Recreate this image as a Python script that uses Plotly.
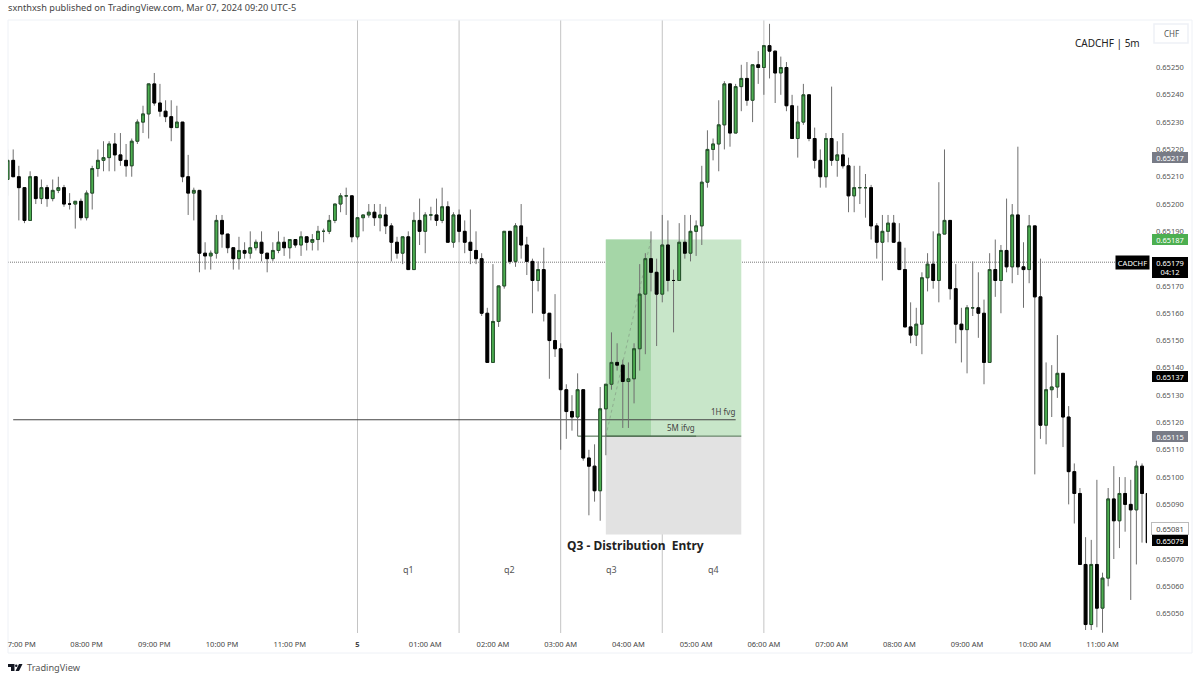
import pandas as pd
import plotly.graph_objects as go

# prices are stored as points above 0.65000
BASE = 0.65

opens = [209,216,210,206,194,210,202,206,202,205, 206,200,200,201,195,204,213,216,217,222,
         218,216,214,223,230,233,244,237,234,232, 228,230,210,204,205,182,181,182,194,189,
         184,180,183,182,184,186,182,180,183,186, 184,187,185,188,186,187,190,190,194,200,
         203,203,188,195,196,197,195,196,192,186, 182,188,176,194,190,196,196,194,199,186,
         196,190,186,183,180,160,142,157,170,190, 179,192,185,179,172,176,160,150,147,132,
         124,122,132,107,104,95,125,134,142,141, 135,136,147,167,180,175,167,185,172,172,
         186,182,190,192,208,220,222,229,244,226, 243,246,238,251,250,258,256,248,250,236,
         224,230,240,224,216,210,224,216,218,214, 203,206,206,206,192,186,190,193,186,176,
         155,152,156,173,178,172,189,194,169,156, 154,162,162,160,142,176,172,183,177,196,
         177,176,192,166,119,132,133,138,122,102, 94,68,46,68,52,63,92,84,94,90, 88,104,94]
highs = [220,220,214,206,212,210,209,207,209,210, 207,204,201,202,205,214,220,223,223,226,
         226,222,224,231,236,244,248,244,238,238, 236,230,218,206,205,186,183,196,196,189,
         184,188,186,190,187,190,182,186,190,188, 187,187,190,188,189,192,191,196,200,204,
         206,203,195,196,200,200,200,199,193,188, 188,190,197,202,197,199,202,206,201,197,
         198,194,198,190,182,162,178,170,190,190, 193,200,188,180,179,184,160,167,149,134,
         130,138,132,110,112,133,134,153,149,143, 142,149,178,182,190,180,196,194,176,193,
         196,196,194,214,227,224,238,245,244,244, 251,252,251,256,258,266,256,254,252,240,
         236,244,240,228,220,226,243,223,226,217, 214,214,211,207,193,196,196,196,193,184,
         164,162,175,182,190,208,220,194,178,162, 163,179,175,165,182,187,185,202,200,221,
         186,196,192,180,142,141,152,138,126,105, 96,78,77,99,65,96,104,100,100,99, 106,105,94]
lows = [203,210,194,193,194,200,200,199,201,204, 199,198,191,194,194,198,210,212,212,212,
        214,210,210,222,226,224,236,232,230,223, 228,208,196,194,175,176,176,180,184,182,
        176,176,180,180,183,179,175,179,182,181, 180,184,181,183,183,183,186,189,193,197,
        196,186,187,190,195,192,190,189,179,180, 178,176,176,185,182,194,192,193,186,184,
        186,182,178,178,159,142,142,155,169,178, 177,180,174,160,168,157,136,144,110,114,
        117,115,106,86,91,84,108,132,139,118, 118,127,139,145,168,148,164,168,153,172,
        180,179,181,185,206,216,212,220,221,226, 234,236,230,244,240,246,237,240,234,224,
        217,229,223,213,206,206,214,210,213,197, 197,200,195,187,180,172,186,186,176,155,
        149,148,145,168,169,164,189,165,149,142, 138,159,151,134,142,166,160,175,171,174,
        162,171,101,114,112,122,129,111,90,83, 68,44,44,45,43,60,70,74,80,55, 68,76,60]
closes = [216,210,206,194,210,202,206,202,205,206, 200,200,201,195,204,213,216,217,222,218,
          216,214,223,230,233,244,237,234,232,228, 230,210,204,205,182,181,182,194,189,184,
          180,183,182,184,186,182,180,183,186,184, 187,185,188,186,187,190,190,194,200,203,
          203,188,195,196,197,195,196,192,186,182, 188,176,194,190,196,196,194,199,186,196,
          190,186,183,180,160,142,157,170,190,179, 192,185,179,172,176,160,150,147,132,124,
          122,132,107,104,95,125,134,142,141,135, 136,147,167,180,175,167,185,172,172,186,
          182,190,192,208,220,222,229,244,226,243, 246,238,251,250,258,256,248,250,236,224,
          230,240,224,216,210,224,216,218,214,203, 206,206,206,192,186,190,193,186,176,155,
          152,156,173,178,172,189,194,169,156,154, 162,162,160,142,176,172,183,177,196,177,
          176,192,166,119,132,133,138,122,102,94, 68,46,68,52,63,92,84,94,90,88, 104,94,76]

times = pd.date_range("2024-03-04 18:50", periods=len(opens), freq="5min")

# 0.65080 and 0.65180 sit fully behind the price boxes, so they are left out
price_ticks = [0.65050, 0.65060, 0.65070, 0.65090, 0.65100, 0.65110, 0.65120, 0.65130, 0.65140,
               0.65150, 0.65160, 0.65170, 0.65190, 0.65200, 0.65210, 0.65220, 0.65230, 0.65240, 0.65250]
time_ticks = ["2024-03-04 19:00", "2024-03-04 20:00", "2024-03-04 21:00", "2024-03-04 22:00", "2024-03-04 23:00",
              "2024-03-05 00:00", "2024-03-05 01:00", "2024-03-05 02:00", "2024-03-05 03:00", "2024-03-05 04:00",
              "2024-03-05 05:00", "2024-03-05 06:00", "2024-03-05 07:00", "2024-03-05 08:00", "2024-03-05 09:00",
              "2024-03-05 10:00", "2024-03-05 11:00"]
time_labels = ["\u00a0\u00a0\u00a07:00 PM", "08:00 PM", "09:00 PM", "10:00 PM", "11:00 PM", "<b>5</b>", "01:00 AM", "02:00 AM",
               "03:00 AM", "04:00 AM", "05:00 AM", "06:00 AM", "07:00 AM", "08:00 AM", "09:00 AM", "10:00 AM", "11:00 AM"]
session_lines = ["2024-03-05 00:00", "2024-03-05 01:30", "2024-03-05 03:00", "2024-03-05 04:30", "2024-03-05 06:00"]

FONT = "Noto Sans"
GREEN = "#4caf50"


def px(x):
    return (x - 8) / 1139


def py(y):
    return (633 - y) / 613


def p(v):
    return BASE + v / 100000


fig = go.Figure()

# wicks first (grey), bodies on top with their own outline
fig.add_trace(go.Candlestick(
    x=times, open=[p(v) for v in opens], high=[p(v) for v in highs], low=[p(v) for v in lows],
    close=[p(v) for v in closes], whiskerwidth=0, showlegend=False, hoverinfo="skip",
    increasing=dict(line=dict(color="#6f6f6f", width=1), fillcolor="rgba(0,0,0,0)"),
    decreasing=dict(line=dict(color="#6f6f6f", width=1), fillcolor="rgba(0,0,0,0)"),
))
fig.add_trace(go.Candlestick(
    x=times, open=[p(v) for v in opens], close=[p(v) for v in closes],
    high=[p(max(a, b)) for a, b in zip(opens, closes)], low=[p(min(a, b)) for a, b in zip(opens, closes)],
    whiskerwidth=0, showlegend=False,
    increasing=dict(line=dict(color="#24502a", width=1), fillcolor=GREEN),
    decreasing=dict(line=dict(color="#000000", width=1), fillcolor="#000000"),
))

shapes = []
for t in session_lines:
    shapes.append(dict(type="line", xref="x", yref="paper", x0=t, x1=t, y0=0, y1=1, layer="below",
                       line=dict(color="#c4c4c4", width=1)))
shapes += [
    dict(type="rect", xref="x", yref="y", x0="2024-03-05 03:40", x1="2024-03-05 05:40", y0=0.65115, y1=0.65187,
         layer="below", fillcolor="#c8e6c9", line=dict(width=0)),
    dict(type="rect", xref="x", yref="y", x0="2024-03-05 03:40", x1="2024-03-05 04:20", y0=0.65115, y1=0.65187,
         layer="below", fillcolor="#a5d6a7", line=dict(width=0)),
    dict(type="rect", xref="x", yref="y", x0="2024-03-05 03:40", x1="2024-03-05 05:40", y0=0.65079, y1=0.65115,
         layer="below", fillcolor="#e2e2e2", line=dict(width=0)),
    dict(type="line", xref="x", yref="y", x0="2024-03-05 03:40", x1="2024-03-05 04:20", y0=0.65115, y1=0.65187,
         layer="below", line=dict(color="#8fae90", width=1, dash="3px,3px")),
    dict(type="line", xref="x", yref="y", x0="2024-03-05 03:40", x1="2024-03-05 05:40", y0=0.65115, y1=0.65115,
         layer="below", line=dict(color="#4f6f50", width=1)),
    dict(type="line", xref="paper", yref="y", x0=0, x1=1, y0=0.651787, y1=0.651787, layer="below",
         line=dict(color="#777777", width=1, dash="1px,1px")),
    dict(type="line", xref="x", yref="y", x0="2024-03-04 18:55", x1="2024-03-05 05:35", y0=0.65121, y1=0.65121,
         layer="below", line=dict(color="#444444", width=1)),
    dict(type="line", xref="x", yref="y", x0="2024-03-05 03:15", x1="2024-03-05 05:00", y0=0.65115, y1=0.65115,
         layer="below", line=dict(color="#3f5f40", width=1)),
    # pane frame and CHF button
    dict(type="rect", xref="paper", yref="paper", x0=px(8), x1=px(1192), y0=py(653), y1=py(20), layer="below",
         line=dict(color="#eef1f6", width=1)),
    dict(type="rect", xref="paper", yref="paper", x0=px(1154), x1=px(1188), y0=py(43), y1=py(24), layer="below",
         line=dict(color="#eef1f6", width=1.5)),
    # TradingView logo
    dict(type="path", xref="paper", yref="paper", fillcolor="#131722", line=dict(width=0),
         path=f"M {px(8)} {py(664)} L {px(14.5)} {py(664)} L {px(14.5)} {py(671)} L {px(11)} {py(671)} "
              f"L {px(11)} {py(667)} L {px(8)} {py(667)} Z "
              f"M {px(19)} {py(664)} L {px(22.5)} {py(664)} L {px(19)} {py(671)} L {px(15.5)} {py(671)} Z"),
    dict(type="circle", xref="paper", yref="paper", x0=px(15), x1=px(17.5), y0=py(667), y1=py(664.5),
         fillcolor="#131722", line=dict(width=0)),
]


def note(text, x, y, size=8, color="#444444", **kw):
    return dict(text=text, x=x, y=y, xref="x", yref="y", showarrow=False,
                font=dict(family=FONT, size=size, color=color), **kw)


def price_box(text, y, bg, fg="#ffffff", shift=0, height=11, border=None):
    return dict(text=text, x=px(1170), y=y, xref="paper", yref="y", showarrow=False, xanchor="center", yshift=shift,
                width=36, height=height, bgcolor=bg, bordercolor=border or bg, borderwidth=1 if border else 0,
                borderpad=0, font=dict(family=FONT, size=7.5, color=fg))


def page_text(text, x, y, size, color, anchor="left"):
    return dict(text=text, x=px(x), y=py(y), xref="paper", yref="paper", showarrow=False, xanchor=anchor,
                yanchor="middle", font=dict(family=FONT, size=size, color=color))


annotations = [
    note("q1", "2024-03-05 00:45", 0.65066, 9, "#555555"),
    note("q2", "2024-03-05 02:15", 0.65066, 9, "#555555"),
    note("q3", "2024-03-05 03:45", 0.65066, 9, "#555555"),
    note("q4", "2024-03-05 05:15", 0.65066, 9, "#555555"),
    note("1H fvg", "2024-03-05 05:24", 0.65124, 8),
    note("5M ifvg", "2024-03-05 04:47", 0.65118, 8),
    note("<b>Q3 - Distribution  Entry</b>", "2024-03-05 04:06", 0.65075, 12, "#222222"),
    price_box("0.65217", 0.65217, "#787b86"),
    price_box("0.65187", 0.65187, GREEN),
    price_box("0.65179<br>04:12", 0.65179, "#000000", shift=-6, height=21),
    price_box("0.65137", 0.65137, "#000000"),
    price_box("0.65115", 0.65115, "#787b86"),
    price_box("0.65081", 0.65081, "#ffffff", fg="#444444", border="#bbbbbb"),
    price_box("0.65079", 0.65079, "#000000", shift=-6),
    dict(text="CADCHF", x=px(1132), y=0.65179, xref="paper", yref="y", showarrow=False, xanchor="center", yshift=-1,
         width=31, height=11, bgcolor="#000000", font=dict(family=FONT, size=7.5, color="#ffffff")),
    page_text("CHF", 1171, 33, 8, "#555555", "center"),
    page_text("CADCHF | 5m", 1073, 43, 10, "#222222"),
    page_text("sxnthxsh published on TradingView.com, Mar 07, 2024 09:20 UTC-5", 6, 7, 9.2, "#444444"),
    page_text("TradingView", 25, 667, 9.2, "#555555"),
]

fig.update_layout(
    width=1200, height=681, margin=dict(l=8, r=53, t=20, b=48, autoexpand=False),
    paper_bgcolor="white", plot_bgcolor="white", boxmode="overlay", showlegend=False,
    shapes=shapes, annotations=annotations, hovermode=False,
    xaxis=dict(type="date", range=["2024-03-04 18:50:24", "2024-03-05 11:39:24"], rangeslider=dict(visible=False),
               showgrid=False, zeroline=False, showline=False, ticks="", tickvals=time_ticks, ticktext=time_labels,
               tickangle=0, automargin=False, ticklabelstandoff=5, tickfont=dict(family=FONT, size=7.5, color="#444444")),
    yaxis=dict(range=[0.650429, 0.652674], side="right", showgrid=False, zeroline=False, showline=False, ticks="",
               tickvals=price_ticks, ticktext=[f"{v:.5f}" for v in price_ticks], ticklabelstandoff=8,
               automargin=False, tickfont=dict(family=FONT, size=7.5, color="#555555")),
)

# the page's default body margin would shift the fixed-size figure
fig.write_html("out.html", config={"displayModeBar": False}, post_script="document.body.style.margin='0';")
